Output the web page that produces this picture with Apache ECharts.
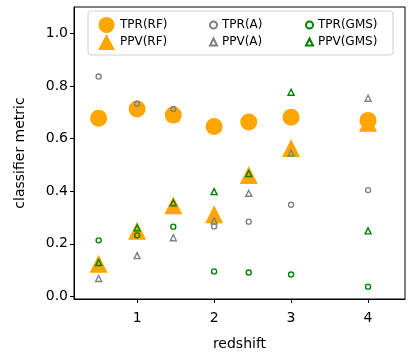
<!DOCTYPE html>
<html>
<head>
<meta charset="utf-8">
<script src="https://cdn.jsdelivr.net/npm/echarts@6/dist/echarts.min.js"></script>
<style>
  html, body { margin: 0; padding: 0; background: #fff; }
  #chart { width: 415px; height: 356px; }
</style>
</head>
<body>
<div id="chart"></div>
<script>
// redshift bins
const redshift = [0.5, 1.0, 1.47, 2.0, 2.45, 3.0, 4.0]

// classifier metrics per bin
const tprRF = [0.677, 0.712, 0.689, 0.646, 0.663, 0.681, 0.669]
const ppvRF = [0.124, 0.249, 0.346, 0.312, 0.461, 0.564, 0.660]
const tprA = [0.836, 0.732, 0.712, 0.266, 0.284, 0.348, 0.404]
const ppvA = [0.068, 0.155, 0.223, 0.287, 0.392, 0.545, 0.753]
const tprGMS = [0.213, 0.232, 0.265, 0.095, 0.091, 0.083, 0.037]
const ppvGMS = [0.129, 0.261, 0.356, 0.398, 0.467, 0.776, 0.249]

const xTicks = [1, 2, 3, 4]
const yTicks = [0, 0.2, 0.4, 0.6, 0.8, 1.0]

const FONT = 'DejaVu Sans'
const ORANGE = '#ffa500'
const GRAY = '#808080'
const GREEN = '#008000'

function pts(ys) {
  return redshift.map((x, i) => [x, ys[i]])
}

function big(name, symbol, ys, size) {
  return {
    name, type: 'scatter', symbol, symbolSize: size,
    itemStyle: { color: ORANGE, opacity: 1 },
    data: pts(ys)
  }
}

function small(name, symbol, ys, color, size) {
  return {
    name, type: 'scatter', symbol, symbolSize: size,
    itemStyle: { color: 'rgba(0,0,0,0)', borderColor: color, borderWidth: 1.4, opacity: 1 },
    data: pts(ys)
  }
}

// one legend per column, two rows each
function legendCol(left, top, gap, names, w, h) {
  return {
    left, top, orient: 'vertical', itemGap: gap, padding: 0,
    itemWidth: w, itemHeight: h, z: 10,
    textStyle: { fontFamily: FONT, fontSize: 12, color: '#000' },
    data: names
  }
}

const chart = echarts.init(document.getElementById('chart'), null, { renderer: 'canvas' })

chart.setOption({
  animation: false,
  grid: { left: 74, right: 10, top: 7, bottom: 54, show: true, borderColor: '#000', borderWidth: 1 },
  graphic: [{
    type: 'rect', z: 1,
    shape: { x: 88, y: 11, width: 305, height: 44, r: 3 },
    style: { fill: 'rgba(255,255,255,0.8)', stroke: '#d0d0d0', lineWidth: 1 }
  }],
  legend: [
    legendCol(98, 17, 1, ['TPR(RF)', 'PPV(RF)'], 17, 16),
    legendCol(209, 19, 5, ['TPR(A)', 'PPV(A)'], 7, 7),
    legendCol(305, 19, 5, ['TPR(GMS)', 'PPV(GMS)'], 7, 7)
  ],
  xAxis: {
    type: 'value', min: 0.18, max: 4.48,
    name: 'redshift', nameLocation: 'middle', nameGap: 38,
    nameTextStyle: { fontFamily: FONT, fontSize: 14, color: '#000' },
    axisLine: { show: true, onZero: false, lineStyle: { color: '#000' } },
    axisTick: { show: true, length: 4, customValues: xTicks, lineStyle: { color: '#000' } },
    axisLabel: { customValues: xTicks, fontFamily: FONT, fontSize: 14, color: '#000', margin: 12 },
    splitLine: { show: false }
  },
  yAxis: {
    type: 'value', min: -0.01, max: 1.1,
    name: 'classifier metric', nameLocation: 'middle', nameGap: 47,
    nameTextStyle: { fontFamily: FONT, fontSize: 14, color: '#000' },
    axisLine: { show: true, onZero: false, lineStyle: { color: '#000' } },
    axisTick: { show: true, length: 4, customValues: yTicks, lineStyle: { color: '#000' } },
    axisLabel: {
      customValues: yTicks, fontFamily: FONT, fontSize: 14, color: '#000', margin: 6,
      formatter: v => v.toFixed(1)
    },
    splitLine: { show: false }
  },
  series: [
    big('TPR(RF)', 'circle', tprRF, 17),
    big('PPV(RF)', 'triangle', ppvRF, 18),
    small('TPR(A)', 'circle', tprA, GRAY, 5),
    small('PPV(A)', 'triangle', ppvA, GRAY, 6),
    small('TPR(GMS)', 'circle', tprGMS, GREEN, 5),
    small('PPV(GMS)', 'triangle', ppvGMS, GREEN, 6)
  ]
})
</script>
</body>
</html>
